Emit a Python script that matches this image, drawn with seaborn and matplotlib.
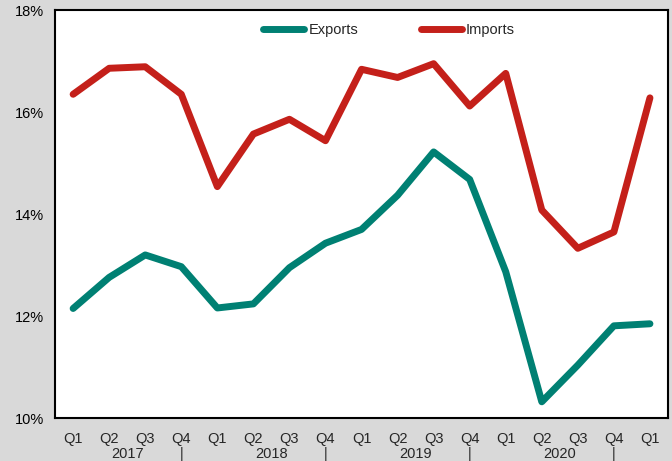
import matplotlib
matplotlib.use("Agg")
import matplotlib.pyplot as plt
import matplotlib.ticker as mticker
import pandas as pd
import numpy as np
import seaborn as sns

quarters = ["Q1", "Q2", "Q3", "Q4"] * 4 + ["Q1"]
years = ["2017", "2018", "2019", "2020"]
exports = [12.15, 12.76, 13.20, 12.97, 12.16, 12.24, 12.95, 13.43, 13.70,
           14.37, 15.22, 14.68, 12.87, 10.32, 11.04, 11.81, 11.85]
imports = [16.35, 16.86, 16.89, 16.35, 14.54, 15.57, 15.86, 15.44, 16.84,
           16.68, 16.95, 16.12, 16.76, 14.08, 13.33, 13.65, 16.28]

df = pd.DataFrame({
    "idx": list(range(len(exports))) * 2,
    "value": exports + imports,
    "series": ["Exports"] * len(exports) + ["Imports"] * len(imports),
})

sns.set_style("white")
plt.rcParams["font.family"] = ["Liberation Sans", "DejaVu Sans"]

fig = plt.figure(figsize=(6.72, 4.61), dpi=100, facecolor="#d9d9d9")
ax = fig.add_axes([0.082, 0.093, 0.912, 0.885])
ax.set_facecolor("white")

sns.lineplot(data=df, x="idx", y="value", hue="series",
             palette={"Exports": "#008073", "Imports": "#c4201a"},
             linewidth=5, ax=ax, solid_capstyle="round")

ax.set_xlim(-0.5, len(exports) - 0.5)
ax.set_ylim(10, 18)
ax.yaxis.set_major_locator(mticker.MultipleLocator(2))
ax.yaxis.set_major_formatter(mticker.FuncFormatter(lambda v, p: f"{v:.0f}%"))

# boundaries as major ticks, quarter labels on minor ticks
ax.set_xticks(np.arange(-0.5, len(exports), 1.0))
ax.set_xticklabels([])
ax.set_xticks(np.arange(len(exports)), minor=True)
ax.set_xticklabels(quarters, minor=True, fontsize=10.5)
ax.tick_params(axis="x", which="major", length=5, width=1, color="black", direction="out")
ax.tick_params(axis="x", which="minor", length=0, pad=10)
ax.tick_params(axis="y", length=5, width=1, color="black", direction="out", labelsize=10.5, pad=3)
ax.tick_params(colors="black")

# year labels and separators under Q4
xt = ax.get_xaxis_transform()
for k, yr in enumerate(years):
    ax.text(1.5 + 4 * k, -0.071, yr, transform=xt, ha="center", va="top", fontsize=10.5)
    ax.text(3 + 4 * k, -0.071, "|", transform=xt, ha="center", va="top", fontsize=10.5)

for s in ax.spines.values():
    s.set_color("black")
    s.set_linewidth(1.5)

ax.set_xlabel("")
ax.set_ylabel("")
leg = ax.legend(loc="upper center", bbox_to_anchor=(0.545, 1.0), ncol=2, frameon=False,
                fontsize=10.5, handlelength=2.8, handletextpad=0.3, columnspacing=4.3)
for h in leg.get_lines():
    h.set_linewidth(5)
    h.set_solid_capstyle("round")

fig.savefig("out.png", dpi=100, facecolor=fig.get_facecolor())
